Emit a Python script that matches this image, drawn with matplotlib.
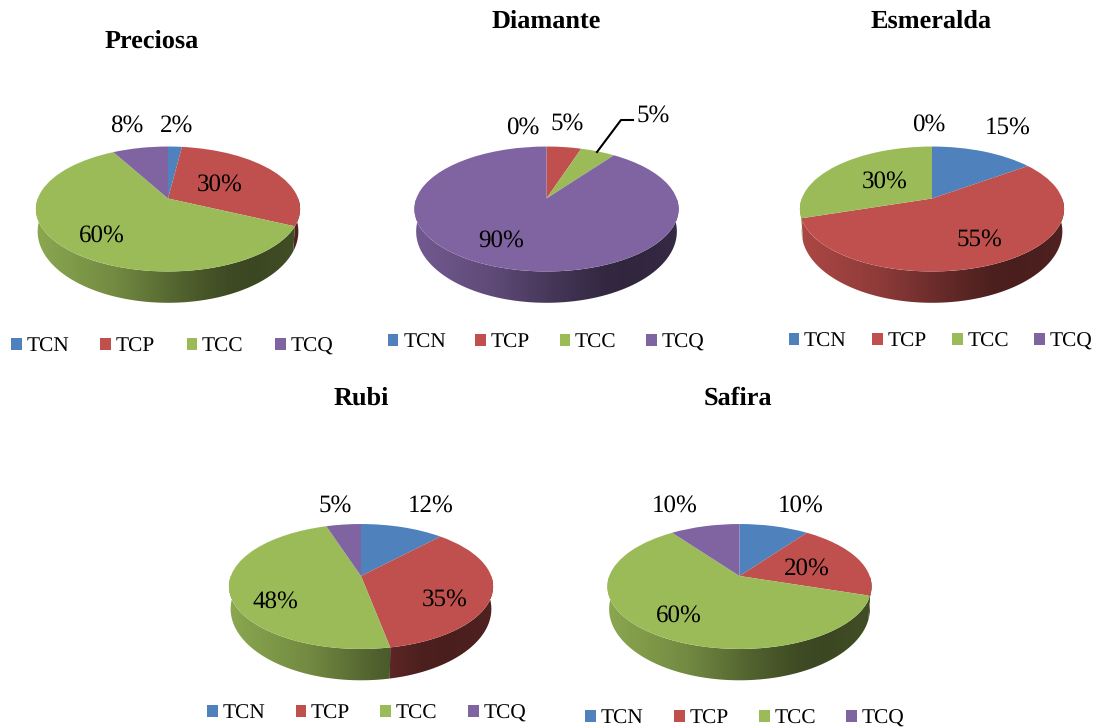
import numpy as np
import matplotlib
matplotlib.use("Agg")
import matplotlib.pyplot as plt
from matplotlib.patches import Polygon
from matplotlib.transforms import Transform

plt.rcParams['font.family'] = ['Liberation Serif', 'DejaVu Serif']
plt.rcParams['text.hinting'] = 'no_hinting'

W, H = 1098, 728

categories = ["TCN", "TCP", "TCC", "TCQ"]
colors = ["#4F81BD", "#C0504D", "#9BBB59", "#8064A2"]

titles = ["Preciosa", "Diamante", "Esmeralda", "Rubi", "Safira"]
preciosa = [2, 30, 60, 8]
diamante = [0, 5, 5, 90]
esmeralda = [15, 55, 30, 0]
rubi = [12, 35, 48, 5]
safira = [10, 20, 60, 10]
series = [preciosa, diamante, esmeralda, rubi, safira]

# layout, all in pixels of the reference
apexes = [(168, 198.5), (546.5, 198.5), (932, 198.5), (361, 576), (739.5, 576)]
title_pos = [(152, 39), (546, 19), (931, 19), (361, 396), (738, 396)]
legend_pos = [(172, 344), (546, 340), (940.5, 339), (366.5, 711), (745, 716)]
legend_gap = [1.47, 1.38, 1.18, 1.42, 1.42]
label_pos = [
    [(177, 123), (220, 182), (102, 233), (127, 123)],
    [(523, 125), (567, 121), (653, 113), (501, 238)],
    [(1008, 125), (979, 237), (885, 179), (929, 122)],
    [(431, 503), (445, 597), (275, 599), (335, 503)],
    [(801, 503), (807, 566), (679, 613), (675, 503)],
]
TEXT_DY = 2.5

# pie tilt: perspective k, half width a, top face b, wall bottom b2 and drop
K = 0.168
A = 130.2
B = 60.7
B2 = 69.3
DROP = 21
A2 = 128.5

# darkening of the side wall, left to right across the pie
shade_x = [0.0, 0.3, 0.55, 0.72, 0.82, 1.0]
shade_y = [0.90, 0.74, 0.52, 0.40, 0.38, 0.42]


class PieProjection(Transform):
    input_dims = 2
    output_dims = 2

    def __init__(self, cx, cy):
        super().__init__()
        self.cx = cx
        self.cy = cy

    def transform_non_affine(self, values):
        u, v = values[:, 0], values[:, 1]
        d = 1 + K * v
        return np.column_stack([self.cx + A * u / d, self.cy - B * v / d])


def rim(cx, cy, theta, a, b, drop):
    u, v = np.sin(theta), np.cos(theta)
    d = 1 + K * v
    return cx + a * u / d, cy + drop - b * v / d


def draw_wall(ax, cx, cy, vals, base):
    # gradient image across the pie, clipped to the visible wall of each slice
    total = sum(vals)
    start = 0.0
    left, right = cx - A - 4, cx + A + 4
    top, bottom = cy - 10, cy + 115
    frac = np.linspace(0, 1, 300)
    shade = np.interp(frac, shade_x, shade_y)
    for val, col in zip(vals, base):
        end = start + val / total * 360
        t0, t1 = max(start, 90), min(end, 270)
        start = end
        if t1 <= t0:
            continue
        th = np.radians(np.linspace(t0, t1, 2 * int(t1 - t0) + 2))
        x1, y1 = rim(cx, cy, th, A, B, 0)
        x2, y2 = rim(cx, cy, th, A2, B2, DROP)
        outline = np.column_stack([np.r_[x1, x2[::-1]], np.r_[y1, y2[::-1]]])
        rgb = np.outer(shade, matplotlib.colors.to_rgb(col)).reshape(1, -1, 3)
        im = ax.imshow(rgb, extent=(left, right, bottom, top), aspect="auto",
                       interpolation="bilinear", zorder=0.5)
        im.set_clip_path(Polygon(outline, closed=True, transform=ax.transData))


fig = plt.figure(figsize=(W / 100, H / 100), dpi=100)
ax = fig.add_axes([0, 0, 1, 1])

for i, vals in enumerate(series):
    cx, cy = apexes[i]
    draw_wall(ax, cx, cy, vals, colors)
    wedges, _ = ax.pie(vals, colors=colors, startangle=90, counterclock=False,
                       center=(0, 0), radius=1)
    proj = PieProjection(cx, cy)
    for w in wedges:
        w.set_transform(proj + ax.transData)
    for val, (lx, ly) in zip(vals, label_pos[i]):
        ax.text(lx, ly + TEXT_DY, f"{val}%", fontsize=18, ha="center", va="center", color="black", zorder=5)
    ax.text(title_pos[i][0], title_pos[i][1] + TEXT_DY, titles[i], fontsize=18.9, fontweight="bold",
            ha="center", va="center", color="black", zorder=5)
    lx, ly = legend_pos[i]
    fig.legend(wedges, categories, ncol=4, loc="center", frameon=False,
               bbox_to_anchor=(lx / W, 1 - (ly + TEXT_DY) / H), fontsize=15.4, handlelength=0.5,
               handleheight=0.5, handletextpad=0.22, columnspacing=legend_gap[i], borderpad=0,
               borderaxespad=0)

# leader line for the green 5% in Diamante
ax.plot([597, 621, 633], [152, 120, 120], color="black", lw=1.5, zorder=4)

ax.set_aspect("auto")
ax.set_xlim(0, W)
ax.set_ylim(H, 0)
ax.axis("off")

fig.savefig("out.png", dpi=100)
